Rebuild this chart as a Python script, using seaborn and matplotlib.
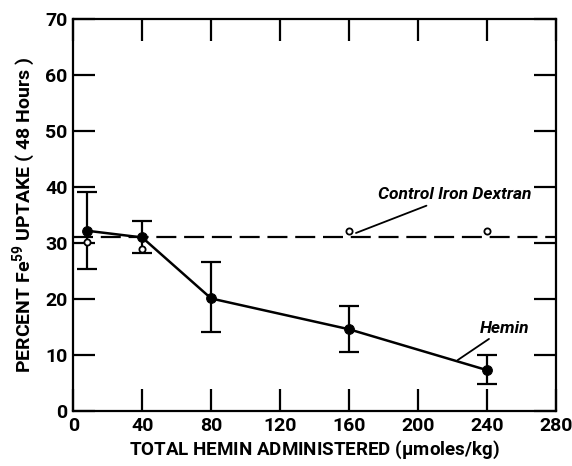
import numpy as np
import pandas as pd
import matplotlib
matplotlib.use("Agg")
import matplotlib.pyplot as plt
import seaborn as sns

# hemin series
hemin_dose = [8, 40, 80, 160, 240]
hemin_uptake = [32.2, 31.0, 20.1, 14.6, 7.3]
hemin_low = [25.4, 28.2, 14.2, 10.5, 4.8]
hemin_high = [39.2, 34.0, 26.6, 18.8, 10.0]

# control iron dextran
control_dose = [8, 40, 160, 240]
control_uptake = [30.2, 29.0, 32.2, 32.2]
control_level = 31.1

x_ticks = [0, 40, 80, 120, 160, 200, 240, 280]
y_ticks = [0, 10, 20, 30, 40, 50, 60, 70]

sns.set_style("ticks")
plt.rcParams['font.family'] = ['Roboto', 'DejaVu Sans']
plt.rcParams['font.weight'] = 'bold'
plt.rcParams['mathtext.fontset'] = 'custom'
plt.rcParams['mathtext.rm'] = 'Roboto:bold'
plt.rcParams['mathtext.it'] = 'Roboto:bold'
plt.rcParams['mathtext.bf'] = 'Roboto:bold'
for k in ['axes.edgecolor', 'xtick.color', 'ytick.color', 'axes.labelcolor', 'text.color']:
    plt.rcParams[k] = 'black'

fig = plt.figure(figsize=(5.72, 4.66), dpi=100)
ax = fig.add_axes([0.128, 0.118, 0.844, 0.841])

hemin = pd.DataFrame({"dose": hemin_dose, "uptake": hemin_uptake})
control = pd.DataFrame({"dose": control_dose, "uptake": control_uptake})

ax.axhline(control_level, color="black", lw=1.6, dashes=(9, 3.5), zorder=1)

yerr = [np.array(hemin_uptake) - np.array(hemin_low),
        np.array(hemin_high) - np.array(hemin_uptake)]
ax.errorbar(hemin_dose, hemin_uptake, yerr=yerr, fmt="none", ecolor="black",
            elinewidth=1.6, capsize=7, capthick=1.6, zorder=2)

sns.lineplot(data=hemin, x="dose", y="uptake", ax=ax, color="black", lw=1.8,
             marker="o", markersize=7, markeredgecolor="black", zorder=3)
sns.scatterplot(data=control, x="dose", y="uptake", ax=ax, s=20,
                facecolor="white", edgecolor="black", linewidth=1.3, zorder=4)

# labels with leader lines
ax.annotate("Control Iron Dextran", xy=(164, 31.8), xytext=(176.5, 38.6),
            fontsize=12.5, fontstyle="italic", fontweight="bold", va="center",
            arrowprops=dict(arrowstyle="-", color="black", lw=1.3,
                            shrinkA=0, shrinkB=0))
ax.annotate("Hemin", xy=(223, 9.1), xytext=(236, 14.8),
            fontsize=12.5, fontstyle="italic", fontweight="bold", va="center",
            arrowprops=dict(arrowstyle="-", color="black", lw=1.3,
                            shrinkA=0, shrinkB=0))

ax.set_xlim(0, 280)
ax.set_ylim(0, 70)
ax.set_xticks(x_ticks)
ax.set_yticks(y_ticks)
ax.tick_params(direction="in", length=16, width=1.6, labelsize=14,
               top=True, right=True, pad=4)
for s in ax.spines.values():
    s.set_linewidth(1.6)
    s.set_visible(True)

ax.set_xlabel("TOTAL HEMIN ADMINISTERED ($\\mu$moles/kg)",
              fontsize=13.5, fontweight="bold", labelpad=3)
ax.set_ylabel("PERCENT Fe$^{59}$ UPTAKE ( 48 Hours )",
              fontsize=14, fontweight="bold", labelpad=5)

fig.savefig("out.png", dpi=100)
